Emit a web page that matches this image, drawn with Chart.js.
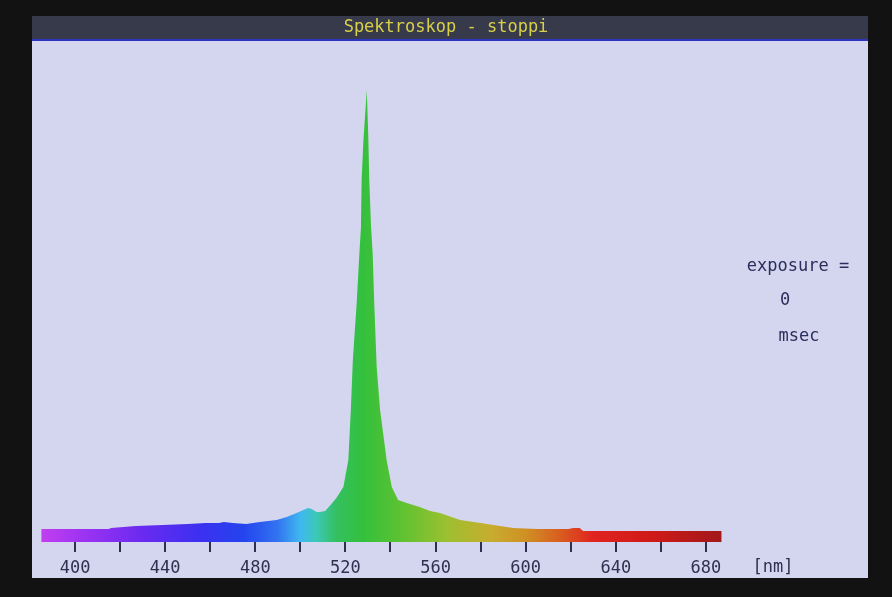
<!DOCTYPE html>
<html lang="de">
<head>
<meta charset="UTF-8">
<title>Spektroskop - stoppi</title>
<script src="https://cdn.jsdelivr.net/npm/chart.js"></script>
<style>
    body { margin: 0; background: #121212; }
    #wrap { position: relative; width: 892px; height: 597px; }
    .lbl {
        position: absolute;
        transform: translate(-50%, -50%);
        font-family: 'DejaVu Sans Mono', monospace;
        font-size: 17px;
        color: #2a2e5a;
        white-space: pre;
    }
</style>
</head>
<body>
<div id="wrap">
    <canvas id="spec"></canvas>
    <span class="lbl" style="left:798px; top:265px;">exposure =</span>
    <span class="lbl" style="left:785px; top:299px;">0</span>
    <span class="lbl" style="left:799px; top:335px;">msec</span>
    <span class="lbl" style="left:773px; top:566px; color:#303050;">[nm]</span>
</div>
<script>
// Wellenlaenge in nm
const wavelengths = [385, 400, 415, 416, 427, 439, 450, 458, 464, 466, 470, 476, 482, 489.5, 494, 498.3,
    501.3, 503.5, 505, 507.2, 508.7, 511, 513, 516, 519.1, 521.3, 522.4, 523.3, 525.0, 526.2, 526.9,
    527.2, 528.0, 529.5, 530.2, 530.6, 531.4, 532.1, 532.8, 533.9, 535.4, 538.3, 540.6, 543.4, 547.2,
    553, 557.6, 562, 570.9, 580, 594.4, 605, 613.9, 619, 621, 624, 625.5, 640, 660, 687];
// Intensitaet (relativ)
const intensity = [13, 13, 13, 14, 16, 17, 18, 19, 19, 20, 19, 18, 20, 22, 25, 29,
    32, 34, 33, 30, 30, 31, 36, 44, 55, 82, 132, 182, 239, 289, 315,
    362, 402, 452, 402, 362, 315, 289, 239, 175, 132, 82, 55, 42, 39,
    35, 31, 29, 22, 19, 14, 13, 13, 13, 14, 14, 11, 11, 11, 11];
const tickValues = [400, 420, 440, 460, 480, 500, 520, 540, 560, 580, 600, 620, 640, 660, 680];
const labelEvery = 40;

// Spektralfarben
const colorStops = [
    [385, '#c23ff0'], [405, '#9a32f2'], [430, '#6a2af0'], [455, '#3c30f0'], [475, '#2444ee'],
    [490, '#3274f0'], [500, '#3fb8f0'], [507, '#3cc8b8'], [516, '#34c060'], [528, '#34c03c'],
    [545, '#5ec232'], [565, '#9cc030'], [585, '#c8ac2e'], [600, '#d09024'], [615, '#d85e20'],
    [630, '#e02420'], [655, '#d01a18'], [687, '#a2181a']
];

const mono = "'DejaVu Sans Mono', monospace";

const screenBg = {
    id: 'screenBg',
    beforeDraw(chart) {
        const c = chart.ctx;
        c.save();
        c.fillStyle = '#121212';
        c.fillRect(0, 0, chart.width, chart.height);
        c.fillStyle = '#d3d6ee';
        c.fillRect(32, 16, 836, 562);
        c.fillStyle = '#363a4a';
        c.fillRect(32, 16, 836, 24);
        c.fillStyle = '#2c34c0';
        c.fillRect(32, 39, 836, 2);
        c.restore();
    }
};

function spectrumFill(context) {
    const chart = context.chart;
    const x = chart.scales.x;
    if (!x || !chart.chartArea) return '#40c040';
    const x0 = x.getPixelForValue(colorStops[0][0]);
    const x1 = x.getPixelForValue(colorStops[colorStops.length - 1][0]);
    const g = chart.ctx.createLinearGradient(x0, 0, x1, 0);
    colorStops.forEach(s => {
        g.addColorStop((x.getPixelForValue(s[0]) - x0) / (x1 - x0), s[1]);
    });
    return g;
}

new Chart(document.getElementById('spec'), {
    type: 'line',
    data: {
        datasets: [{
            data: wavelengths.map((w, i) => ({ x: w, y: intensity[i] })),
            fill: 'origin',
            backgroundColor: spectrumFill,
            borderWidth: 0,
            pointRadius: 0,
            tension: 0
        }]
    },
    plugins: [screenBg],
    options: {
        responsive: true,
        maintainAspectRatio: false,
        animation: false,
        layout: { padding: 0 },
        plugins: {
            legend: { display: false },
            tooltip: { enabled: false },
            title: {
                display: true,
                text: 'Spektroskop - stoppi',
                color: '#d8d048',
                font: { family: mono, size: 17, weight: 'normal' },
                padding: { top: 17, bottom: 5 }
            }
        },
        scales: {
            x: {
                type: 'linear',
                // 400 nm bei x=75, 680 nm bei x=706
                min: 366.7,
                max: 762.6,
                afterBuildTicks: axis => { axis.ticks = tickValues.map(v => ({ value: v })); },
                afterFit: axis => { axis.height = 55; },
                border: { display: false },
                grid: { drawOnChartArea: false, tickLength: 10, color: '#2e3050', lineWidth: 2 },
                ticks: {
                    autoSkip: false,
                    maxRotation: 0,
                    padding: 6,
                    color: '#303050',
                    font: { family: mono, size: 17 },
                    callback: v => (v % labelEvery === 0 ? String(v) : '')
                }
            },
            y: {
                display: false,
                min: 0,
                max: 500
            }
        }
    }
});
</script>
</body>
</html>
